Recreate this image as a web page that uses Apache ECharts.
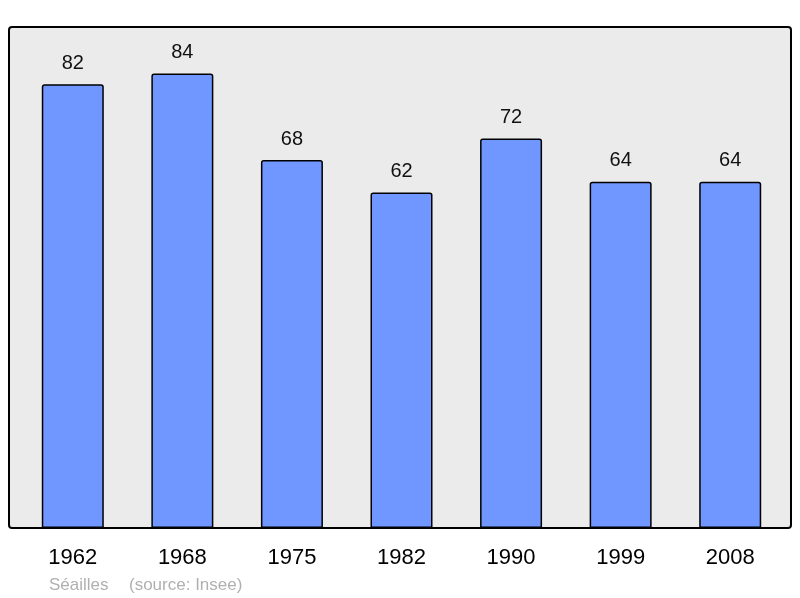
<!DOCTYPE html>
<html>
<head>
<meta charset="utf-8">
<script src="https://cdn.jsdelivr.net/npm/echarts@6/dist/echarts.min.js"></script>
<style>
  html, body { margin: 0; padding: 0; background: #fff; }
  #main { width: 800px; height: 598px; }
</style>
</head>
<body>
<div id="main"></div>
<script>
var years = ['1962', '1968', '1975', '1982', '1990', '1999', '2008'];
var population = [82, 84, 68, 62, 72, 64, 64];

var myChart = echarts.init(document.getElementById('main'));

option = {
    animation: false,
    backgroundColor: '#ffffff',
    graphic: [
        {
            type: 'rect',
            z: -10,
            shape: { x: 9, y: 27, width: 782, height: 501, r: 3 },
            style: { fill: '#ebebeb', stroke: '#000', lineWidth: 2 }
        },
        {
            type: 'text',
            left: 49,
            top: 577,
            style: {
                text: 'Séailles',
                fill: '#b0b0b0',
                font: '17px "Liberation Sans", Arial, sans-serif'
            }
        },
        {
            type: 'text',
            left: 129,
            top: 577,
            style: {
                text: '(source: Insee)',
                fill: '#b0b0b0',
                font: '17px "Liberation Sans", Arial, sans-serif'
            }
        }
    ],
    grid: {
        left: 18,
        right: 15,
        top: 27,
        bottom: 70
    },
    xAxis: {
        type: 'category',
        data: years,
        axisLine: { show: false },
        axisTick: { show: false },
        axisLabel: {
            color: '#000',
            fontSize: 22,
            margin: 19,
            fontFamily: '"Liberation Sans", Arial, sans-serif'
        }
    },
    yAxis: {
        type: 'value',
        min: 0,
        max: 92.6,
        show: false,
        splitLine: { show: false }
    },
    series: [{
        name: 'population',
        type: 'bar',
        data: population,
        barWidth: 62,
        itemStyle: {
            color: '#7096ff',
            borderColor: '#000',
            borderWidth: 1.5,
            borderRadius: [2, 2, 0, 0]
        },
        label: {
            show: true,
            position: 'top',
            distance: 11,
            color: '#111',
            fontSize: 20,
            fontFamily: '"Liberation Sans", Arial, sans-serif'
        }
    }]
};

myChart.setOption(option);
</script>
</body>
</html>
